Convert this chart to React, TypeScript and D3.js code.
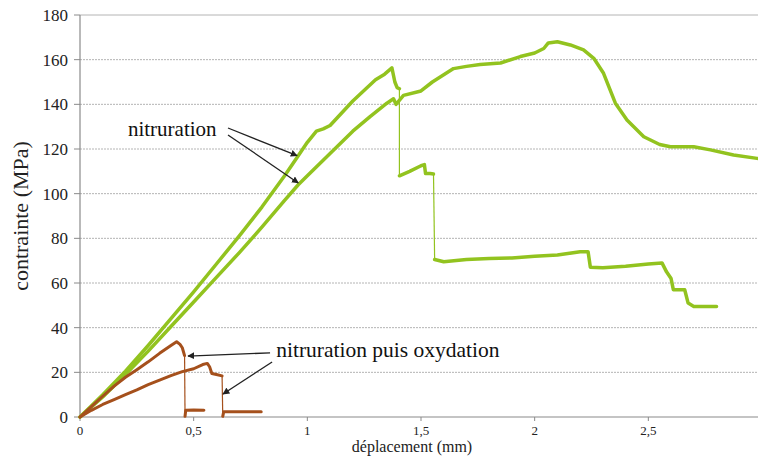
import React from 'react';
import * as d3 from 'd3';

type Pt = [number, number];

// x ticks (mm) and their french labels
const xTicks = [0, 0.5, 1, 1.5, 2, 2.5];
const xTickLabels = ['0', '0,5', '1', '1,5', '2', '2,5'];
const yTicks = [0, 20, 40, 60, 80, 100, 120, 140, 160, 180];

// nitruration, sample 1 (breaks in steps)
const nitru1: Pt[][] = [
  [[0, 0], [0.1, 10], [0.2, 20.5], [0.3, 32], [0.4, 44], [0.5, 56], [0.6, 68.5], [0.7, 81], [0.8, 94], [0.9, 108],
   [0.96, 117], [1.0, 123], [1.04, 128], [1.07, 129], [1.1, 130.5], [1.2, 141.5], [1.3, 151], [1.34, 153.5],
   [1.372, 156.3], [1.385, 150], [1.395, 147.5], [1.405, 147]],
  [[1.405, 108], [1.45, 110], [1.5, 112.5], [1.515, 113], [1.52, 109], [1.54, 109], [1.555, 108.8]],
  [[1.56, 70.5], [1.6, 69.5], [1.7, 70.5], [1.8, 71], [1.9, 71.2], [2.0, 72], [2.1, 72.5], [2.2, 74], [2.235, 74],
   [2.245, 67], [2.3, 66.8], [2.4, 67.5], [2.5, 68.5], [2.56, 69], [2.58, 65], [2.6, 62], [2.61, 57], [2.66, 57],
   [2.675, 51], [2.7, 49.5], [2.8, 49.5]],
];

// nitruration, sample 2
const nitru2: Pt[][] = [
  [[0, 0], [0.1, 9], [0.2, 19], [0.3, 29.5], [0.4, 40.5], [0.5, 51.5], [0.6, 62.5], [0.7, 73.5], [0.8, 85], [0.9, 97],
   [0.96, 104], [1.0, 108], [1.1, 118], [1.2, 128], [1.276, 134.5], [1.35, 140.5], [1.379, 142.5], [1.39, 140],
   [1.423, 144], [1.5, 146], [1.55, 150], [1.643, 156], [1.7, 157], [1.76, 157.8], [1.85, 158.5], [1.937, 161.4],
   [2.0, 163], [2.04, 165], [2.06, 167.5], [2.1, 168], [2.157, 166.6], [2.215, 164.4], [2.26, 160.6], [2.303, 153.9],
   [2.355, 140.5], [2.406, 133], [2.48, 125.5], [2.55, 122], [2.597, 121], [2.7, 121], [2.773, 119.6], [2.875, 117.3],
   [2.978, 115.8], [3.0, 115.5]],
];

// nitruration puis oxydation
const oxy1: Pt[][] = [
  [[0, 0], [0.05, 4.6], [0.1, 9.3], [0.15, 13.8], [0.2, 17.8], [0.25, 21.2], [0.3, 24.7], [0.35, 28.5], [0.4, 32],
   [0.425, 33.7], [0.44, 32.5], [0.45, 31], [0.46, 27.5]],
  [[0.462, 0.3], [0.465, 3], [0.5, 3.1], [0.545, 3]],
];
const oxy2: Pt[][] = [
  [[0, 0], [0.05, 3], [0.1, 5.6], [0.15, 7.8], [0.2, 10], [0.25, 12.1], [0.3, 14.5], [0.35, 16.5], [0.4, 18.5],
   [0.45, 20.3], [0.5, 21.6], [0.54, 23.5], [0.56, 24], [0.57, 22.5], [0.58, 19.5], [0.6, 19], [0.625, 18.4]],
  [[0.628, 0.3], [0.632, 2.3], [0.7, 2.4], [0.797, 2.3]],
];

const GREEN = '#92c31f';
const BROWN = '#a5501c';

const W = 758;
const H = 460;
const margin = { top: 15, right: -4, bottom: 43, left: 80 };

const x = d3.scaleLinear().domain([0, 3]).range([margin.left, W - margin.right]);
const y = d3.scaleLinear().domain([0, 180]).range([H - margin.bottom, margin.top]);
const line = d3.line<Pt>().x(d => x(d[0])).y(d => y(d[1]));

const Series: React.FC<{ segs: Pt[][]; color: string; w: number }> = ({ segs, color, w }) => (
  <g>
    {segs.slice(1).map((s, i) => {
      const prev = segs[i][segs[i].length - 1];
      return (
        <line key={'c' + i} x1={x(prev[0])} y1={y(prev[1])} x2={x(s[0][0])} y2={y(s[0][1])}
          stroke={color} strokeWidth={1.2} />
      );
    })}
    {segs.map((s, i) => (
      <path key={i} d={line(s) || ''} fill="none" stroke={color} strokeWidth={w}
        strokeLinejoin="round" strokeLinecap="round" />
    ))}
  </g>
);

// annotation arrows in data units: [from, to]
const arrowsTop: [Pt, Pt][] = [
  [[0.651, 129.4], [0.955, 117]],
  [[0.651, 126.3], [0.96, 104.8]],
];
const arrowsBottom: [Pt, Pt][] = [
  [[0.836, 28.7], [0.475, 27.3]],
  [[0.845, 24.6], [0.629, 10.3]],
];

const FONT = "'Times New Roman', Times, 'Liberation Serif', 'DejaVu Serif', serif";

export default function App() {
  const allArrows = [...arrowsTop, ...arrowsBottom];
  return (
    <svg width={W} height={H} style={{ position: 'absolute', left: 0, top: 0, background: '#fff', fontFamily: FONT }}>
      <defs>
        <marker id="ah" viewBox="0 0 10 10" refX="9" refY="5" markerWidth="7" markerHeight="7"
          orient="auto" markerUnits="userSpaceOnUse">
          <path d="M0,0 L10,5 L0,10 z" fill="#222" />
        </marker>
      </defs>
      {/* grid */}
      {yTicks.slice(1).map(t => (
        <line key={t} x1={x(0)} x2={W} y1={y(t)} y2={y(t)} stroke="#b4b4b4" strokeWidth={1}
          strokeDasharray={t === 180 ? undefined : '2,1'} />
      ))}
      {/* axes */}
      <line x1={x(0)} x2={x(0)} y1={y(0)} y2={y(180)} stroke="#8a8a8a" strokeWidth={1.2} />
      <line x1={x(0)} x2={W} y1={y(0)} y2={y(0)} stroke="#8a8a8a" strokeWidth={1.2} />
      {yTicks.map(t => (
        <g key={t}>
          <line x1={x(0) - 6} x2={x(0)} y1={y(t)} y2={y(t)} stroke="#8a8a8a" />
          <text x={x(0) - 12} y={y(t)} dy="0.35em" textAnchor="end" fontSize={17} fill="#222">{t}</text>
        </g>
      ))}
      {xTicks.map((t, i) => (
        <g key={t}>
          <line x1={x(t)} x2={x(t)} y1={y(0)} y2={y(0) + 4} stroke="#8a8a8a" />
          <text x={x(t)} y={y(0) + 18} textAnchor="middle" fontSize={13} fill="#222">{xTickLabels[i]}</text>
        </g>
      ))}
      <text x={412} y={452} textAnchor="middle" fontSize={16} fill="#222">déplacement (mm)</text>
      <text transform={`translate(28,${y(90)}) rotate(-90)`} textAnchor="middle" fontSize={22} fill="#222">
        contrainte (MPa)
      </text>

      {/* curves */}
      <Series segs={nitru2} color={GREEN} w={3.5} />
      <Series segs={nitru1} color={GREEN} w={3.5} />
      <Series segs={oxy2} color={BROWN} w={3} />
      <Series segs={oxy1} color={BROWN} w={3} />

      {/* annotations */}
      <text x={x(0.211)} y={y(125.8)} fontSize={21} fill="#111">nitruration</text>
      <text x={x(0.863)} y={y(26.9)} fontSize={21.5} fill="#111">nitruration puis oxydation</text>
      {allArrows.map((a, i) => (
        <line key={i} x1={x(a[0][0])} y1={y(a[0][1])} x2={x(a[1][0])} y2={y(a[1][1])}
          stroke="#222" strokeWidth={1.3} markerEnd="url(#ah)" />
      ))}
    </svg>
  );
}
